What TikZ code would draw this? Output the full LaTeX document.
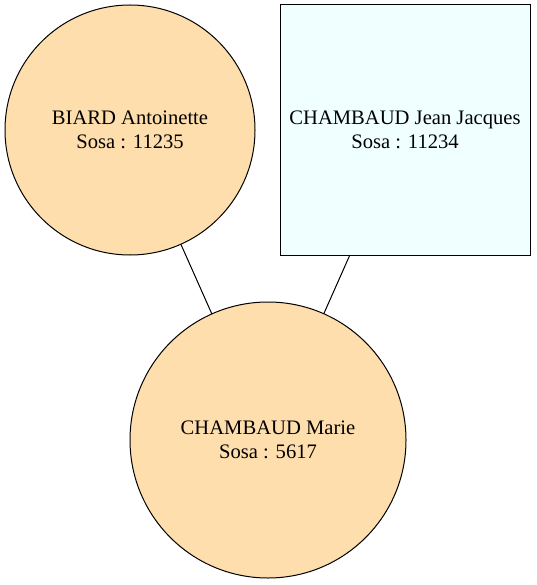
\documentclass[tikz,border=0pt]{standalone}
\usepackage{fontspec}
\setmainfont{Liberation Serif}
\definecolor{personfill}{RGB}{255,222,173}
\definecolor{boxfill}{RGB}{240,255,255}
\begin{document}
\begin{tikzpicture}[x=1pt,y=-1pt,
  every node/.style={font=\fontsize{20.6}{24}\selectfont, align=center, inner sep=0pt, outer sep=0pt, line width=1pt},
  woman/.style={circle, draw=black, fill=personfill},
  man/.style={rectangle, draw=black, fill=boxfill, minimum width=250pt, minimum height=250pt},
  link/.style={draw=black, line width=1pt}]
\useasboundingbox (0,0) rectangle (536,585);
\node[woman, minimum size=250pt] (biard) at (130,130) {BIARD Antoinette\\Sosa : 11235};
\node[man] (jean) at (405,130) {CHAMBAUD Jean Jacques\\Sosa : 11234};
\node[woman, minimum size=276pt] (marie) at (268,440) {CHAMBAUD Marie\\Sosa : 5617};
\draw[link] (biard) -- (marie);
\draw[link] (jean) -- (marie);
\end{tikzpicture}
\end{document}
